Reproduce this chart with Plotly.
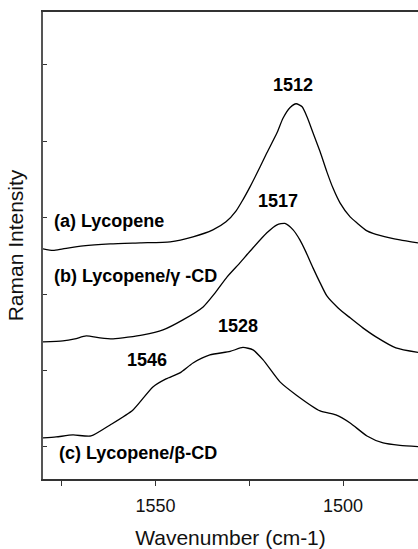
import plotly.graph_objects as go

# Raman spectra (wavenumber, intensity in arbitrary offset units)
wn_a = [1580, 1577.3, 1574.7, 1569.3, 1562.1, 1554.1, 1546.1, 1540.0, 1534.7, 1531.2, 1528.5,
        1526.7, 1524.8, 1522.1, 1520.3, 1517.6, 1516.0, 1514.1, 1512.5, 1510.9, 1509.6, 1508.0,
        1506.1, 1504.3, 1502.7, 1500.8, 1498.1, 1496.3, 1493.6, 1492.0, 1487.5, 1484.8, 1480]
int_a = [2.592, 2.572, 2.592, 2.631, 2.657, 2.670, 2.683, 2.749, 2.840, 2.945, 3.089,
         3.233, 3.403, 3.665, 3.848, 4.110, 4.300, 4.440, 4.490, 4.450, 4.319, 4.110,
         3.861, 3.599, 3.390, 3.194, 3.010, 2.932, 2.827, 2.795, 2.736, 2.709, 2.670]

wn_b = [1580, 1574.7, 1571.5, 1568.5, 1564.8, 1561.3, 1553.3, 1548.0, 1542.7, 1537.3, 1534.1,
        1530.9, 1527.5, 1524.8, 1520.3, 1517.6, 1515.5, 1513.3, 1511.5, 1509.9, 1508.0, 1506.1,
        1504.3, 1501.3, 1498.1, 1494.7, 1491.2, 1485.9, 1480]
int_b = [1.374, 1.387, 1.414, 1.453, 1.427, 1.414, 1.466, 1.531, 1.662, 1.832, 2.016,
         2.225, 2.408, 2.560, 2.801, 2.906, 2.925, 2.840, 2.709, 2.552, 2.343, 2.147,
         1.976, 1.819, 1.689, 1.558, 1.440, 1.296, 1.237]

wn_c = [1580, 1576.5, 1572.0, 1567.2, 1562.1, 1556.0, 1550.7, 1547.2, 1543.5, 1540.0, 1535.5,
        1530.1, 1526.7, 1524.0, 1521.3, 1516.8, 1512.5, 1506.1, 1501.9, 1498.1, 1493.6, 1489.3,
        1484.8, 1480]
int_c = [0.118, 0.131, 0.157, 0.144, 0.288, 0.484, 0.785, 0.890, 0.969, 1.099, 1.204,
         1.250, 1.302, 1.270, 1.139, 0.851, 0.681, 0.471, 0.419, 0.314, 0.144, 0.052,
         0.020, 0.004]

x_tickvals = [1575, 1550, 1525, 1500, 1475]
x_ticktext = ["", "1550", "", "1500", ""]
y_tickvals = [0, 1, 2, 3, 4, 5]

fig = go.Figure()
for wn, it in [(wn_a, int_a), (wn_b, int_b), (wn_c, int_c)]:
    fig.add_trace(go.Scatter(x=wn, y=it, mode="lines",
                             line=dict(color="black", width=1.3, shape="spline", smoothing=0.6),
                             showlegend=False, hoverinfo="skip"))

bold = dict(family="Liberation Sans, Arial, sans-serif", size=18, color="black")
ann = [
    ("<b>1512</b>", 1513.3, 4.738, "center"),
    ("<b>1517</b>", 1517.3, 3.220, "center"),
    ("<b>(a) Lycopene</b>", 1577.6, 2.958, "left"),
    ("<b>(b) Lycopene/γ -CD</b>", 1577.6, 2.238, "left"),
    ("<b>1528</b>", 1528.0, 1.584, "center"),
    ("<b>1546</b>", 1552.3, 1.139, "center"),
    ("<b>(c) Lycopene/β-CD</b>", 1576.3, -0.079, "left"),
]
for t, xx, yy, xa in ann:
    fig.add_annotation(text=t, x=xx, y=yy, xref="x", yref="y", showarrow=False,
                       xanchor=xa, yanchor="middle", font=bold)

fig.update_layout(
    width=418, height=549,
    margin=dict(l=43, r=0, t=12, b=70),
    paper_bgcolor="white", plot_bgcolor="white",
    font=dict(family="Liberation Sans, Arial, sans-serif", color="black"),
    xaxis=dict(range=[1580, 1480], tickvals=x_tickvals, ticktext=x_ticktext,
               ticks="outside", ticklen=5, tickwidth=1.3, tickcolor="#333",
               ticklabelstandoff=5,
               showline=True, linecolor="#333", linewidth=1.5, mirror=True,
               showgrid=False, zeroline=False,
               tickfont=dict(size=18, color="#111"),
               title=dict(text="Wavenumber (cm-1)", font=dict(size=21, color="#111"), standoff=16)),
    yaxis=dict(range=[-0.419, 5.69], tickvals=y_tickvals, showticklabels=False,
               ticks="inside", ticklen=4, tickwidth=1.3, tickcolor="#333",
               showline=True, linecolor="#555", linewidth=1.5,
               showgrid=False, zeroline=False,
               title=dict(text="Raman Intensity", font=dict(size=21, color="#111"), standoff=12)),
)

fig.write_html("out.html")
